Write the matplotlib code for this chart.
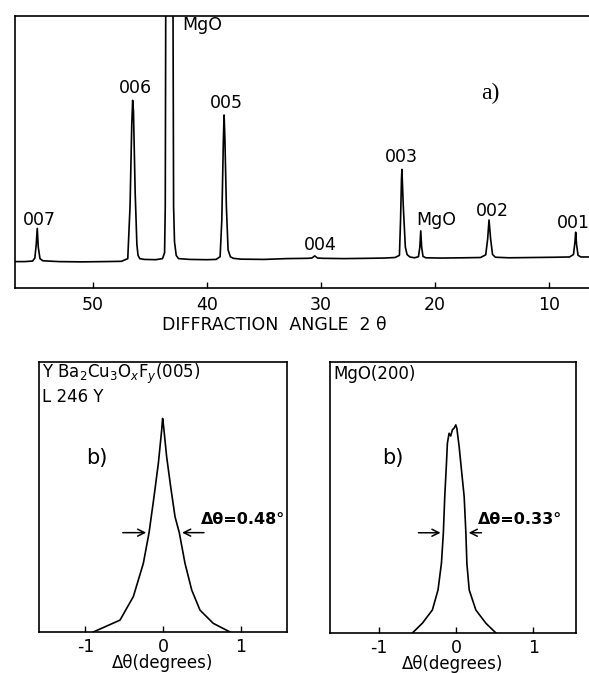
import matplotlib.pyplot as plt

plt.rcParams['font.family'] = ['DejaVu Sans']
plt.rcParams['mathtext.fontset'] = 'dejavusans'

# a) diffraction pattern (2theta, relative intensity)
two_theta = [56.8, 56.0, 55.3, 55.1, 54.98, 54.89, 54.80, 54.65, 54.4, 53.0,
             51.0, 49.0, 47.5, 46.95, 46.75, 46.6, 46.52, 46.45, 46.3, 46.15,
             46.05, 45.9, 45.5, 44.5, 43.9, 43.72, 43.66, 43.62, 43.55, 43.3,
             43.05, 42.98, 42.93, 42.85, 42.7, 42.5, 41.5, 40.0, 39.2, 38.85,
             38.7, 38.56, 38.5, 38.43, 38.3, 38.15, 37.95, 37.7, 37.0, 35.0,
             33.0, 31.2, 30.8, 30.55, 30.3, 29.8, 28.0, 26.0, 24.5, 23.5,
             23.12, 23.02, 22.94, 22.9, 22.78, 22.6, 22.45, 22.2, 21.8, 21.45,
             21.33, 21.25, 21.17, 21.05, 20.8, 19.5, 17.5, 16.0, 15.55, 15.38,
             15.26, 15.12, 14.95, 14.7, 13.5, 11.5, 9.5, 8.2, 7.85, 7.72,
             7.66, 7.58, 7.45, 7.2, 6.5]
intensity = [9.7, 9.7, 9.9, 11.0, 16.0, 21.9, 15.0, 10.8, 10.0, 9.7,
             9.6, 9.7, 9.8, 10.8, 30.0, 60.0, 69.0, 65.0, 35.0, 16.0,
             12.0, 10.8, 10.5, 10.4, 10.8, 13.0, 30.0, 100.0, 130.0, 160.0,
             130.0, 100.0, 30.0, 17.0, 12.0, 10.8, 10.5, 10.4, 10.5, 11.5,
             25.0, 55.0, 63.6, 55.0, 30.0, 14.0, 11.5, 10.9, 10.6, 10.5,
             10.8, 10.9, 11.0, 11.8, 11.0, 10.9, 10.8, 10.9, 11.0, 11.2,
             12.0, 25.0, 40.0, 43.6, 30.0, 15.0, 12.3, 11.4, 11.1, 11.5,
             15.0, 21.0, 15.0, 11.6, 11.1, 11.0, 11.1, 11.2, 12.2, 18.0,
             25.0, 18.0, 12.3, 11.3, 11.1, 11.2, 11.3, 11.4, 12.3, 17.0,
             20.5, 16.0, 12.0, 11.4, 11.4]

peak_names = ['007', '006', 'MgO', '005', '004', '003', 'MgO', '002', '001']
peak_pos = [54.74, 46.32, 40.44, 38.33, 30.1, 22.98, 19.9, 15.0, 7.9]
peak_lab_y = [25.0, 73.5, 96.7, 68.0, 15.8, 48.2, 25.0, 28.3, 23.9]
xticks_a = [50, 40, 30, 20, 10]

# b) rocking curves
ybco_dth = [-0.90, -0.555, -0.383, -0.254, -0.18, -0.116, -0.06, -0.017, -0.005,
            0.006, 0.047, 0.099, 0.155, 0.21, 0.284, 0.37, 0.477, 0.649, 0.865]
ybco_int = [0.0, 4.4, 13.1, 25.4, 36.8, 50.1, 62.5, 74.8, 79.1,
            76.6, 64.9, 53.8, 42.7, 36.8, 25.4, 15.6, 8.1, 3.2, 0.0]
mgo_dth = [-0.566, -0.437, -0.307, -0.234, -0.19, -0.165, -0.147, -0.125, -0.113,
           -0.091, -0.07, -0.048, -0.026, -0.004, 0.009, 0.039, 0.069, 0.104,
           0.126, 0.139, 0.169, 0.255, 0.385, 0.515]
mgo_int = [0.0, 3.6, 8.5, 15.9, 25.7, 37.0, 50.3, 62.6, 70.0,
           73.7, 72.7, 75.0, 75.6, 76.8, 75.6, 68.8, 60.2, 50.3,
           37.0, 25.7, 15.9, 8.5, 3.6, 0.0]
xticks_b = [-1, 0, 1]

fig = plt.figure(figsize=(5.89, 6.73), dpi=100)

# ---- panel a ----
ax = fig.add_axes([0.0255, 0.5721, 0.9745, 0.4041])
ax.plot(two_theta, intensity, color='black', lw=1.2)
ax.set_xlim(56.84, 6.49)
ax.set_ylim(0, 100)
ax.spines['right'].set_visible(False)
for s in ['left', 'top', 'bottom']:
    ax.spines[s].set_linewidth(1.2)
ax.set_yticks([])
ax.set_xticks(xticks_a)
ax.tick_params(axis='x', direction='in', length=4, width=1, pad=6, labelsize=12.5)
for name, px, py in zip(peak_names, peak_pos, peak_lab_y):
    ax.text(px, py, name, ha='center', va='center', fontsize=12.5)
ax.text(15.18, 71.7, 'a)', ha='center', va='center', fontsize=17,
        family='Liberation Serif')
fig.text(0.465, 0.517, 'DIFFRACTION  ANGLE  2 θ', ha='center', va='center',
         fontsize=12.5)

arrow_style = dict(arrowstyle='->,head_length=0.5,head_width=0.25', color='black', lw=1.1)


def rocking(rect, xs, ys, xlim, title_lines, lab_x, level, left_arrow, right_arrow, width_txt):
    bx = fig.add_axes(rect)
    bx.plot(xs, ys, color='black', lw=1.2)
    bx.set_xlim(*xlim)
    bx.set_ylim(0, 100)
    for s in bx.spines.values():
        s.set_linewidth(1.2)
    bx.set_yticks([])
    bx.set_xticks(xticks_b)
    bx.set_xticklabels(['-1', '0', '1'])
    bx.tick_params(axis='x', direction='in', length=4, width=1, pad=4, labelsize=12.5)
    bx.set_xlabel('Δθ(degrees)', fontsize=12, labelpad=-1)
    for txt, ty in title_lines:
        bx.text(0.012, ty, txt, transform=bx.transAxes, ha='left', va='center',
                fontsize=12)
    bx.text(lab_x, 0.645, 'b)', transform=bx.transAxes, ha='center', va='center',
            fontsize=15)
    # FWHM arrows
    bx.annotate('', xy=(left_arrow[1], level), xytext=(left_arrow[0], level),
                arrowprops=arrow_style)
    bx.annotate('', xy=(right_arrow[1], level), xytext=(right_arrow[0], level),
                arrowprops=arrow_style)
    bx.text(right_arrow[0] - 0.08, level + 5, width_txt, ha='left', va='center',
            fontsize=11.5, fontweight='bold')
    return bx


rocking([0.0662, 0.0609, 0.4211, 0.4012], ybco_dth, ybco_int, (-1.6, 1.6),
        [(r'Y Ba$_2$Cu$_3$O$_x$F$_y$(005)', 0.955), ('L 246 Y', 0.87)],
        0.234, 36.8, (-0.555, -0.18), (0.564, 0.21), 'Δθ=0.48°')
rocking([0.5603, 0.0594, 0.4177, 0.4027], mgo_dth, mgo_int, (-1.63, 1.55),
        [('MgO(200)', 0.955)],
        0.256, 37.0, (-0.523, -0.165), (0.364, 0.126), 'Δθ=0.33°')

fig.savefig('out.png', dpi=100)
